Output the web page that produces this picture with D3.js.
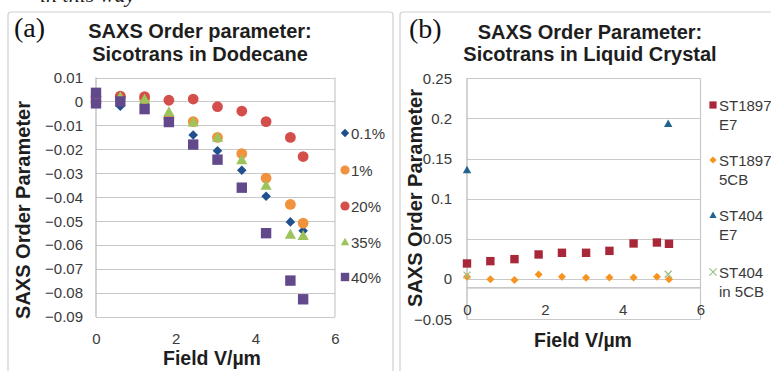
<!DOCTYPE html>
<html>
<head>
<meta charset="utf-8">
<script src="https://cdn.jsdelivr.net/npm/d3@7"></script>
<style>
  html, body { margin: 0; padding: 0; background: #fff; }
  svg { display: block; }
</style>
</head>
<body>
<svg id="chart" width="771" height="371"></svg>
<script>
// ---------------- data: panel (a) ----------------
const fieldA = [0, 0.61, 1.22, 1.83, 2.44, 3.05, 3.66, 4.27, 4.88, 5.2];
const fieldA40 = [0, 0, 0.61, 1.22, 1.83, 2.44, 3.05, 3.66, 4.27, 4.88, 5.2];
const s01 = [0.000, -0.002, -0.001, -0.008, -0.014, -0.0206, -0.0287, -0.0396, -0.0503, -0.054];
const s1  = [0.000, 0.002, 0.001, -0.007, -0.0084, -0.015, -0.0218, -0.032, -0.043, -0.0508];
const s20 = [0.002, 0.0022, 0.002, 0.0005, 0.001, -0.0022, -0.004, -0.0084, -0.015, -0.023];
const s35 = [0.001, 0.002, 0.001, -0.0043, -0.0086, -0.015, -0.0243, -0.035, -0.0555, -0.056];
const s40 = [0.0036, -0.0008, 0.000, -0.0032, -0.0086, -0.018, -0.0243, -0.036, -0.055, -0.0748, -0.0826];
const legendA = ["0.1%", "1%", "20%", "35%", "40%"];
const yTicksA = [0.01, 0, -0.01, -0.02, -0.03, -0.04, -0.05, -0.06, -0.07, -0.08, -0.09];
const xTicks = [0, 2, 4, 6];

// ---------------- data: panel (b) ----------------
const fieldB = [0, 0.6, 1.22, 1.84, 2.44, 3.06, 3.66, 4.28, 4.88, 5.19];
const fieldB404 = [0, 5.17];
const st1897E7  = [0.0195, 0.0224, 0.0249, 0.0307, 0.0328, 0.0328, 0.0352, 0.0444, 0.0456, 0.044];
const st18975CB = [0.003, 0.000, -0.0012, 0.0058, 0.003, 0.0017, 0.002, 0.002, 0.003, 0.000];
const st404E7   = [0.136, 0.1936];
const st4045CB  = [0.005, 0.006];
const legendB = [["ST1897", "E7"], ["ST1897", "5CB"], ["ST404", "E7"], ["ST404", "in 5CB"]];
const yTicksB = [0.25, 0.2, 0.15, 0.1, 0.05, 0, -0.05];

// ---------------- helpers ----------------
const svg = d3.select("#chart");
const FONT = "'Liberation Sans', Arial, sans-serif";

function markerPath(type, s) {
  switch (type) {
    case "circle": return d3.symbol(d3.symbolCircle, Math.PI * s * s)();
    case "square": return `M${-s},${-s}H${s}V${s}H${-s}Z`;
    case "diamond": return `M0,${-s}L${s},0L0,${s}L${-s},0Z`;
    case "triangle": return `M0,${-s}L${s},${s * 0.8}L${-s},${s * 0.8}Z`;
    case "cross": return `M${-s},${-s}L${s},${s}M${s},${-s}L${-s},${s}`;
  }
}

function drawPanel(cfg) {
  const g = svg.append("g");
  g.append("rect").attr("x", cfg.frame[0]).attr("y", cfg.frame[1])
    .attr("width", cfg.frame[2]).attr("height", cfg.frame[3])
    .attr("rx", 3).attr("fill", "#fff").attr("stroke", "#cfcfcf").attr("stroke-width", 1.2);

  const x = d3.scaleLinear().domain([0, 6]).range(cfg.xr);
  const y = d3.scaleLinear().domain(cfg.yd).range(cfg.yr);

  g.append("g").selectAll("line").data(cfg.yTicks).join("line")
    .attr("x1", cfg.xr[0]).attr("x2", cfg.xr[1])
    .attr("y1", d => Math.round(y(d)) + 0.5).attr("y2", d => Math.round(y(d)) + 0.5)
    .attr("stroke", "#c9c9c9").attr("stroke-width", 1.2);
  g.append("line").attr("x1", cfg.xr[1]).attr("x2", cfg.xr[1])
    .attr("y1", cfg.yr[1]).attr("y2", cfg.yr[0])
    .attr("stroke", "#c9c9c9").attr("stroke-width", 1.2);
  g.append("line").attr("x1", cfg.xr[0]).attr("x2", cfg.xr[0])
    .attr("y1", cfg.yr[1]).attr("y2", cfg.yr[0])
    .attr("stroke", "#b5b5b5").attr("stroke-width", 1.2);
  if (cfg.xAxisAt !== undefined) {
    g.append("line").attr("x1", cfg.xr[0]).attr("x2", cfg.xr[1])
      .attr("y1", y(cfg.xAxisAt)).attr("y2", y(cfg.xAxisAt))
      .attr("stroke", "#b5b5b5").attr("stroke-width", 1.2);
  }

  const yAxis = d3.axisLeft(y).tickValues(cfg.yTicks).tickSize(0).tickPadding(cfg.yPad)
    .tickFormat(d => d3.format("")(+d.toFixed(2)));
  const ya = g.append("g").attr("transform", `translate(${cfg.xr[0]},0)`).call(yAxis);
  ya.select(".domain").remove();
  ya.selectAll("text").attr("font-family", FONT).attr("font-size", 15).attr("fill", "#3a3a3a");

  const xAxis = d3.axisBottom(x).tickValues(xTicks).tickSize(0).tickPadding(0).tickFormat(d3.format("d"));
  const xa = g.append("g").attr("transform", `translate(0,${cfg.xLabY})`).call(xAxis);
  xa.select(".domain").remove();
  xa.selectAll("text").attr("dy", null).attr("font-family", FONT).attr("font-size", 15).attr("fill", "#3a3a3a");

  cfg.title.forEach((t, i) => {
    g.append("text").attr("x", cfg.titleX).attr("y", cfg.titleY[i]).attr("text-anchor", "middle")
      .attr("font-family", FONT).attr("font-weight", "bold").attr("font-size", 20).attr("fill", "#1e1e1e").text(t);
  });
  g.append("text").attr("x", cfg.tagX).attr("y", cfg.tagY)
    .attr("font-family", "'Liberation Serif', 'Times New Roman', serif").attr("font-size", 28).attr("fill", "#111").text(cfg.tag);

  g.append("text").attr("x", cfg.xTitle[0]).attr("y", cfg.xTitle[1]).attr("text-anchor", "middle")
    .attr("font-family", FONT).attr("font-weight", "bold").attr("font-size", 19.5).attr("fill", "#1e1e1e").text("Field V/µm");
  g.append("text").attr("transform", `translate(${cfg.yTitle[0]},${cfg.yTitle[1]}) rotate(-90)`).attr("text-anchor", "middle")
    .attr("font-family", FONT).attr("font-weight", "bold").attr("font-size", 20).attr("fill", "#1e1e1e").text("SAXS Order Parameter");

  cfg.series.forEach(s => {
    const pts = s.xs.map((xv, i) => [xv, s.ys[i]]).filter(p => p[1] !== null);
    g.append("g").selectAll("path").data(pts).join("path")
      .attr("transform", d => `translate(${x(d[0])},${y(d[1])})`)
      .attr("d", markerPath(s.shape, s.size))
      .attr("fill", s.shape === "cross" ? "none" : s.color)
      .attr("stroke", s.shape === "cross" ? s.color : "none")
      .attr("stroke-width", 1.3);
  });
  return { g, x, y };
}

// ---------------- panel (a) ----------------
const seriesA = [
  { xs: fieldA, ys: s01, shape: "diamond", size: 4.8, color: "#21508E" },
  { xs: fieldA, ys: s1, shape: "circle", size: 5.4, color: "#F0923E" },
  { xs: fieldA, ys: s20, shape: "circle", size: 5.4, color: "#D44E4B" },
  { xs: fieldA, ys: s35, shape: "triangle", size: 5.6, color: "#9DC35B" },
  { xs: fieldA40, ys: s40, shape: "square", size: 5.2, color: "#62498C" }
];
const pa = drawPanel({
  frame: [8, 12, 385, 380],
  xr: [96, 335], yd: [-0.09, 0.01], yr: [317, 77.5], yTicks: yTicksA, yPad: 13,
  xLabY: 344, xAxisAt: undefined,
  title: ["SAXS Order parameter:", "Sicotrans in Dodecane"], titleX: 200, titleY: [38, 61],
  tag: "(a)", tagX: 14, tagY: 37,
  xTitle: [212, 365], yTitle: [30, 210],
  series: seriesA
});
const legA = pa.g.append("g");
legendA.forEach((name, i) => {
  const yy = [133, 170, 206, 242, 277][i];
  const s = seriesA[i];
  legA.append("path").attr("transform", `translate(345,${yy})`)
    .attr("d", markerPath(s.shape, s.shape === "circle" ? 4.6 : 4.2)).attr("fill", s.color);
  legA.append("text").attr("x", 351).attr("y", yy + 5.5)
    .attr("font-family", FONT).attr("font-size", 15).attr("fill", "#3a3a3a").text(name);
});

// ---------------- panel (b) ----------------
const seriesB = [
  { xs: fieldB, ys: st1897E7, shape: "square", size: 4.2, color: "#A8283A" },
  { xs: fieldB, ys: st18975CB, shape: "diamond", size: 4, color: "#F7931E" },
  { xs: fieldB404, ys: st404E7, shape: "triangle", size: 4.2, color: "#21628F" },
  { xs: fieldB404, ys: st4045CB, shape: "cross", size: 3.5, color: "#9FBF8A" }
];
const pb = drawPanel({
  frame: [400, 12, 380, 380],
  xr: [467, 700.5], yd: [-0.05, 0.25], yr: [319.3, 78.3], yTicks: yTicksB, yPad: 15,
  xLabY: 315, xAxisAt: -0.011,
  title: ["SAXS Order Parameter:", "Sicotrans in Liquid Crystal"], titleX: 590, titleY: [39, 61],
  tag: "(b)", tagX: 409, tagY: 38,
  xTitle: [583, 347], yTitle: [422, 198],
  series: seriesB
});
const legB = pb.g.append("g");
legendB.forEach((lines, i) => {
  const yy = [105, 160, 215, 272][i];
  const s = seriesB[i];
  legB.append("path").attr("transform", `translate(713,${yy})`)
    .attr("d", markerPath(s.shape, 3.6))
    .attr("fill", s.shape === "cross" ? "none" : s.color)
    .attr("stroke", s.shape === "cross" ? s.color : "none").attr("stroke-width", 1.2);
  lines.forEach((t, j) => {
    legB.append("text").attr("x", 719).attr("y", yy + 5.5 + j * 19)
      .attr("font-family", FONT).attr("font-size", 15).attr("fill", "#3a3a3a").text(t);
  });
});

// cut-off caption text at the very top (only its lower part is visible, as in the reference)
svg.append("text").attr("x", 40).attr("y", 2)
  .attr("font-family", "'Liberation Serif', serif").attr("font-style", "italic").attr("font-size", 22)
  .attr("fill", "#222").text("in this way");
</script>
</body>
</html>
